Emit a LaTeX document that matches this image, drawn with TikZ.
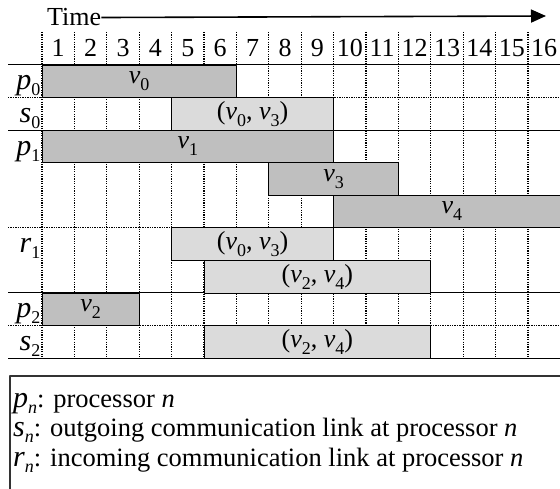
\documentclass[tikz,border=0pt]{standalone}
\usepackage{fontspec}
\setmainfont{Liberation Serif}
\usetikzlibrary{arrows.meta}
\newcommand\lbl[2]{\textit{#1}\raisebox{-7pt}{\fontsize{18}{18}\selectfont #2}}
\newcommand\rowlbl[2]{{\fontsize{30}{30}\selectfont\textit{#1}}\raisebox{-6pt}{\fontsize{18}{18}\selectfont #2}}
\begin{document}
\begin{tikzpicture}[x=1pt,y=-1pt,line join=round,font=\fontsize{26}{30}\selectfont,
	gridline/.style={line width=1pt},
	dotline/.style={line width=1.3pt,dash pattern=on 1.3pt off 1.1pt},
	taskbox/.style={draw,line width=.8pt,fill=black!25},
	commbox/.style={draw,line width=.8pt,fill=black!14},
	legendline/.style={anchor=base west,inner sep=0,font=\fontsize{26.5}{30}\selectfont}]
	\tikzset{declare function={
			cx(\k)=42+32.4*\k;
			ry(\r)=65+32.56*\r;
	}}
	\useasboundingbox (0,0) rectangle (560,489);
	% time axis
	\node[anchor=base west,inner sep=0] (time) at (47,26) {Time};
	\coordinate (timeend) at (546,16);
	\draw[line width=1.6pt,-{Triangle[length=15pt,width=13pt]}] (time.east) -- (timeend);
	\foreach \k in {1,...,16}{
		\node (n\k) at ({cx(\k-0.5)},48) {\k};
	}
	% grid
	\foreach \k in {0,...,15}{
		\draw[dotline] ({cx(\k)},32) -- ({cx(\k)},{ry(9)});
	}
	\foreach \r in {0,2,7,9}{
		\draw[gridline] (8,{ry(\r)}) -- (560,{ry(\r)});
	}
	\foreach \r in {1,5,8}{
		\draw[dotline] (8,{ry(\r)}) -- (560,{ry(\r)});
	}
	% tasks and messages
	\foreach \a/\b/\r/\s/\t/\n in {0/6/0/taskbox/{\lbl{v}{0}}/v0,
		4/9/1/commbox/{(\lbl{v}{0}, \lbl{v}{3})}/sendA,
		0/9/2/taskbox/{\lbl{v}{1}}/v1,
		7/11/3/taskbox/{\lbl{v}{3}}/v3,
		9/16.3/4/taskbox/{\lbl{v}{4}}/v4,
		4/9/5/commbox/{(\lbl{v}{0}, \lbl{v}{3})}/recvA,
		5/12/6/commbox/{(\lbl{v}{2}, \lbl{v}{4})}/recvB,
		0/3/7/taskbox/{\lbl{v}{2}}/v2,
		5/12/8/commbox/{(\lbl{v}{2}, \lbl{v}{4})}/sendB}{
		\draw[style=\s] ({cx(\a)},{ry(\r)}) rectangle node (\n) {\t} ({cx(\b)},{ry(\r+1)});
	}
	% row labels
	\foreach \r/\t/\n in {0/{\rowlbl{p}{0}}/p0,1/{\rowlbl{s}{0}}/s0,2/{\rowlbl{p}{1}}/p1,
		5/{\rowlbl{r}{1}}/r1,7/{\rowlbl{p}{2}}/p2,8/{\rowlbl{s}{2}}/s2}{
		\node[anchor=base east,inner sep=1.5pt] (\n) at (42,{ry(\r)+25}) {\t};
	}
	% legend
	\draw[line width=2pt,draw=black!80] (10,376) rectangle (566,495);
	\node[legendline] (leg1) at (13,407) {\rowlbl{p}{\textit{n}}: processor \textit{n}};
	\node[legendline] (leg2) at (13,436.5) {\rowlbl{s}{\textit{n}}: outgoing communication link at processor \textit{n}};
	\node[legendline] (leg3) at (13,466) {\rowlbl{r}{\textit{n}}: incoming communication link at processor \textit{n}};
\end{tikzpicture}
\end{document}
